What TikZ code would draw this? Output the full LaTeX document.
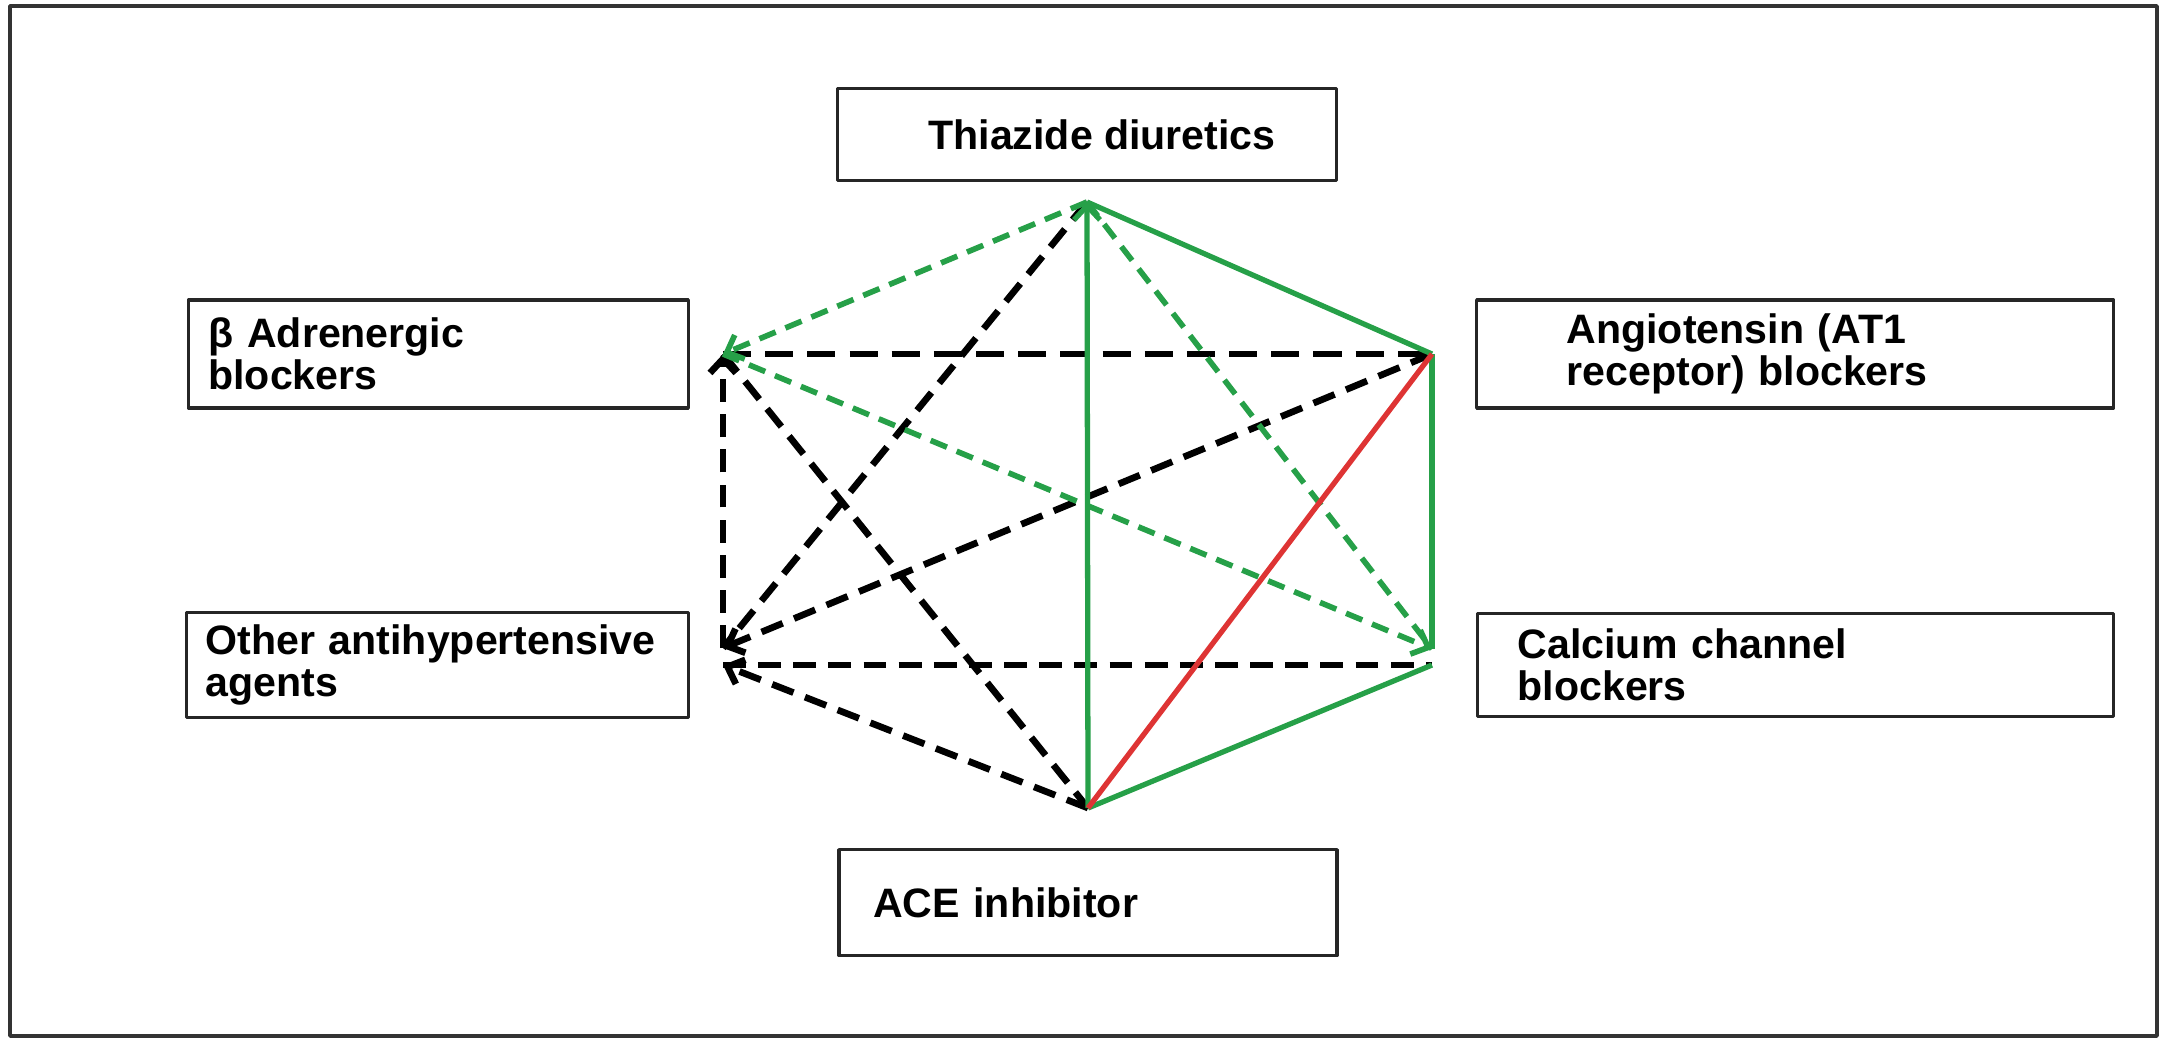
\documentclass[tikz,border=0pt]{standalone}
\usepackage{fontspec}
\setmainfont{Liberation Sans}
\usetikzlibrary{positioning,arrows.meta}
\definecolor{drugGreen}{RGB}{38,160,72}
\definecolor{drugRed}{RGB}{222,52,52}
\begin{document}
\begin{tikzpicture}[line join=round, >={Straight Barb[length=1.4mm,width=2.6mm]},
    drug box/.style={rectangle, draw=black!85, line width=0.9pt, align=left},
    green line/.style={draw=drugGreen, line width=1.5pt},
    green dash/.style={draw=drugGreen, line width=1.6pt, dash pattern=on 5pt off 3pt},
    black dash/.style={draw=black, line width=1.9pt, dash pattern=on 6.5pt off 3.5pt},
    red line/.style={draw=drugRed, line width=1.5pt}]
    \tikzstyle{every node}=[font=\bfseries\fontsize{11.7}{12}\selectfont]

      \useasboundingbox (0,0) rectangle (21.65,-10.38);
      \draw[black!80, line width=1pt] (0.1,-0.06) rectangle (21.57,-10.36);

      % corners of the hexagon
      \coordinate (T) at (10.87,-2.02);
      \coordinate (B) at (7.23,-3.54);
      \coordinate (A) at (14.32,-3.54);
      \coordinate (O) at (7.23,-6.48);
      \coordinate (Olow) at (7.23,-6.65);
      \coordinate (C) at (14.32,-6.49);
      \coordinate (Clow) at (14.32,-6.65);
      \coordinate (E) at (10.88,-8.08);

      \node[drug box, align=center, minimum width=4.99cm, minimum height=0.92cm] (thz) [above=0.2cm of T] {\hspace*{0.3cm}Thiazide diuretics};
      \node[drug box, minimum width=5cm, minimum height=1.08cm, inner xsep=0.2cm, text width=4.6cm] (beta) [left=0.33cm of B] {β Adrenergic\\blockers};
      \node[drug box, minimum width=6.37cm, minimum height=1.08cm, inner xsep=0.9cm, text width=4.57cm] (at1) [right=0.43cm of A] {Angiotensin (AT1\\receptor) blockers};
      \node[drug box, minimum width=5.02cm, minimum height=1.05cm, inner xsep=0.19cm, text width=4.64cm] (other) [left=0.33cm of Olow] {Other antihypertensive\\agents};
      \node[drug box, minimum width=6.36cm, minimum height=1.03cm, inner xsep=0.4cm, text width=5.56cm] (ccb) [right=0.44cm of Clow] {Calcium channel\\blockers};
      \node[drug box, minimum width=4.98cm, minimum height=1.06cm, inner xsep=0.34cm, text width=4.3cm] (ace) [below=0.4cm of E] {ACE inhibitor};

      \path[black dash]
        (T) edge (O)
        (B) edge[dash pattern=on 8pt off 4pt] (A)
            edge (E)
        (O) edge[->] (B)
        (A) edge[->] (O)
        (Olow) edge (Clow)
        (E) edge[->] (Olow);

      \path[green dash]
        (T) edge[->] (B)
            edge (C)
        (B) edge[->] (C);

      \path[green line]
        (E) edge[->] (T)
        (T) edge (A)
        (A) edge (C)
        (Clow) edge (E);

      \path[red line]
        (A) edge (E);

    \end{tikzpicture}
\end{document}
